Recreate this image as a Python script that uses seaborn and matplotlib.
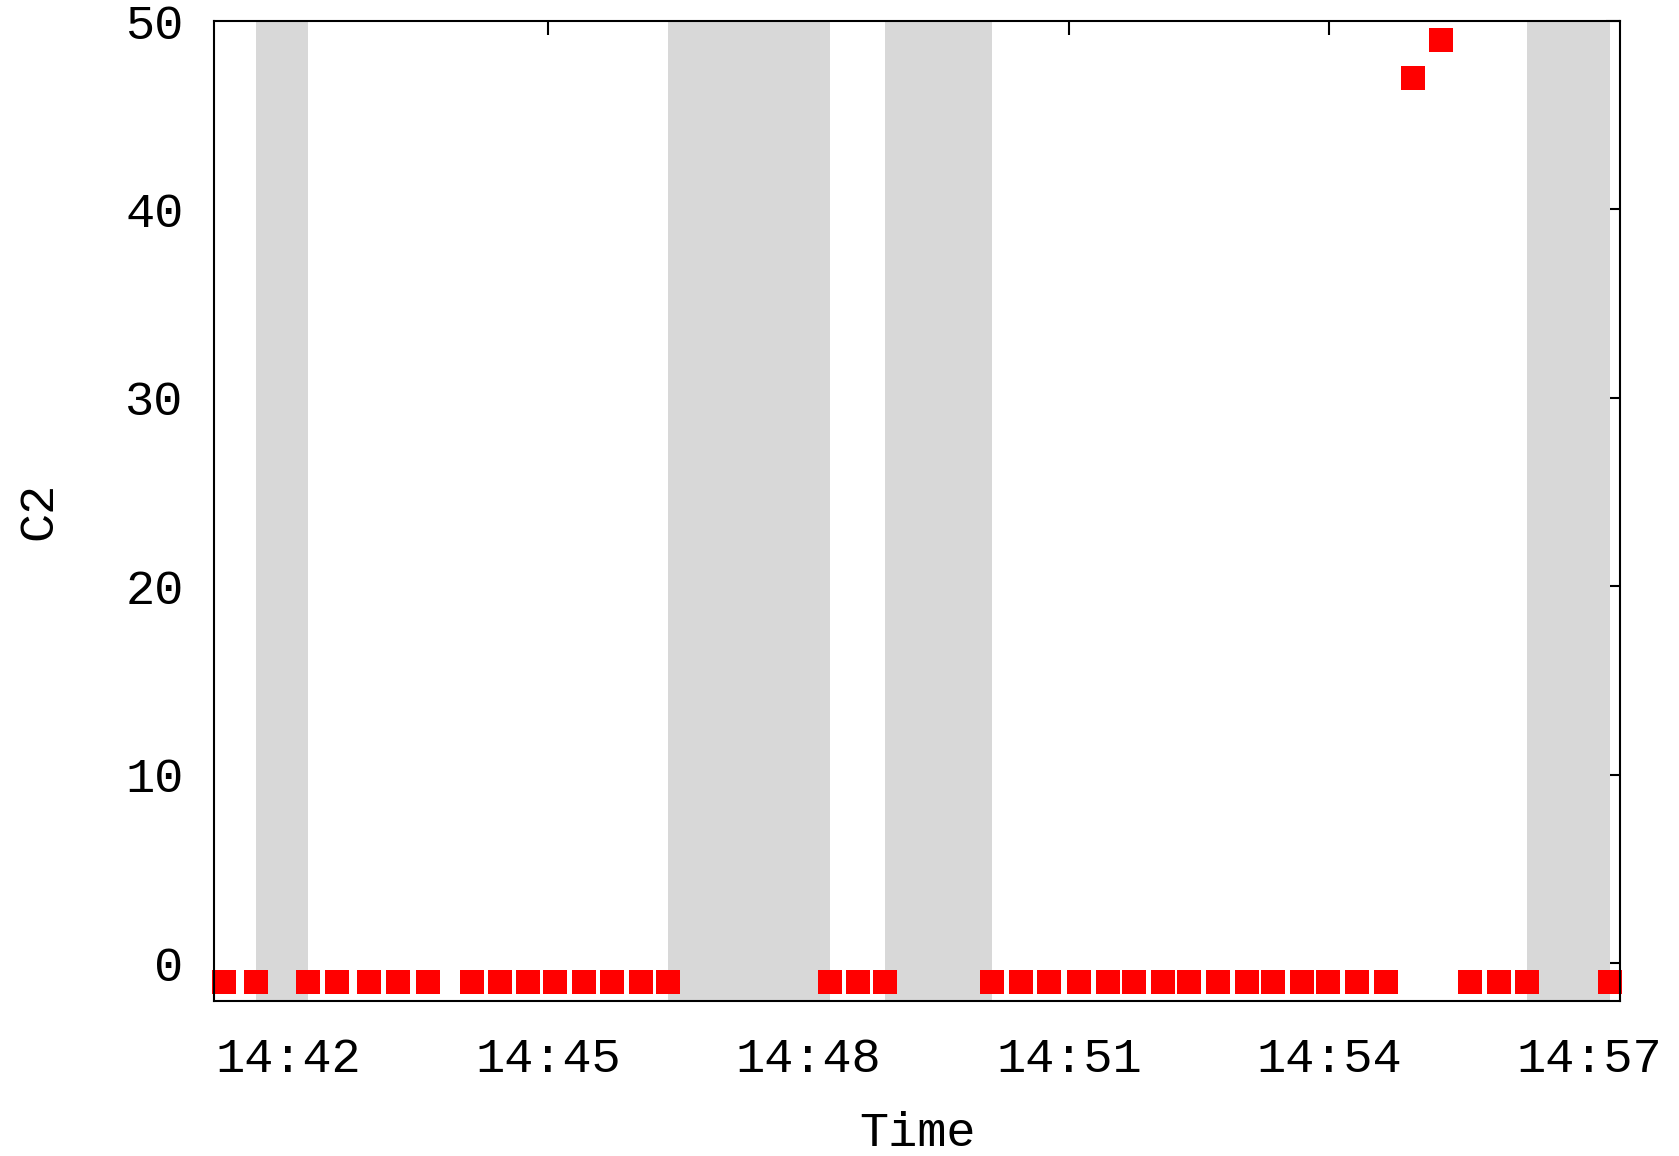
import pandas as pd
import numpy as np
import matplotlib
matplotlib.use("Agg")
import matplotlib.pyplot as plt
import matplotlib.dates as mdates
import seaborn as sns

# mintavételi időpontok és a C2 értékek
idopontok = [
    "14:41:16", "14:41:38", "14:42:14", "14:42:34", "14:42:56", "14:43:16",
    "14:43:37", "14:44:07", "14:44:27", "14:44:46", "14:45:05", "14:45:25",
    "14:45:44", "14:46:04", "14:46:23", "14:48:15", "14:48:34", "14:48:53",
    "14:50:07", "14:50:27", "14:50:46", "14:51:07", "14:51:27", "14:51:45",
    "14:52:05", "14:52:23", "14:52:43", "14:53:03", "14:53:21", "14:53:41",
    "14:53:59", "14:54:19", "14:54:39", "14:54:58", "14:55:17", "14:55:37",
    "14:55:57", "14:56:17", "14:57:14",
]
c2_ertekek = [
    -1, -1, -1, -1, -1, -1,
    -1, -1, -1, -1, -1, -1,
    -1, -1, -1, -1, -1, -1,
    -1, -1, -1, -1, -1, -1,
    -1, -1, -1, -1, -1, -1,
    -1, -1, -1, 47, 49, -1,
    -1, -1, -1,
]

# szürke sávok (kezdet, vég)
sav_kezdet = ["14:41:38", "14:46:23", "14:48:53", "14:56:17"]
sav_veg = ["14:42:14", "14:48:15", "14:50:07", "14:57:14"]

x_min, x_max = "14:41:09", "14:57:21"
y_min, y_max = -2, 50
y_tickek = [0, 10, 20, 30, 40, 50]

nap = "2020-01-01 "
df = pd.DataFrame({
    "Time": pd.to_datetime([nap + t for t in idopontok]),
    "C2": c2_ertekek,
})

sns.set_theme(style="white")
plt.rcParams["font.family"] = ["Liberation Mono", "DejaVu Sans Mono"]

fig = plt.figure(figsize=(16.79, 11.56), dpi=100)
ax = fig.add_axes([0.1275, 0.1341, 0.9649 - 0.1275, 0.9818 - 0.1341])
ax.set_axisbelow(True)

for k, v in zip(sav_kezdet, sav_veg):
    ax.axvspan(pd.Timestamp(nap + k), pd.Timestamp(nap + v),
               color="#d8d8d8", linewidth=0, zorder=1)

sns.scatterplot(data=df, x="Time", y="C2", ax=ax, marker="s", s=16.6 ** 2,
                color="#ff0000", linewidth=0, zorder=3, clip_on=False, legend=False)

ax.set_xlim(pd.Timestamp(nap + x_min), pd.Timestamp(nap + x_max))
ax.set_ylim(y_min, y_max)
ax.set_yticks(y_tickek)
ax.xaxis.set_major_locator(mdates.MinuteLocator(byminute=range(0, 60, 3)))
ax.xaxis.set_major_formatter(mdates.DateFormatter("%H:%M"))

for sp in ax.spines.values():
    sp.set_visible(True)
    sp.set_color("black")
    sp.set_linewidth(1.5)
    sp.set_zorder(4)

ax.tick_params(axis="both", which="major", direction="in", length=10, width=1.5,
               color="black", top=True, right=True, labelsize=35, labelcolor="black")
ax.tick_params(axis="x", pad=26)
ax.tick_params(axis="y", pad=22)

ax.set_xlabel("Time", fontsize=35, color="black", labelpad=21)
ax.set_ylabel("C2", fontsize=35, color="black", labelpad=46)

fig.savefig("out.png", dpi=100)
